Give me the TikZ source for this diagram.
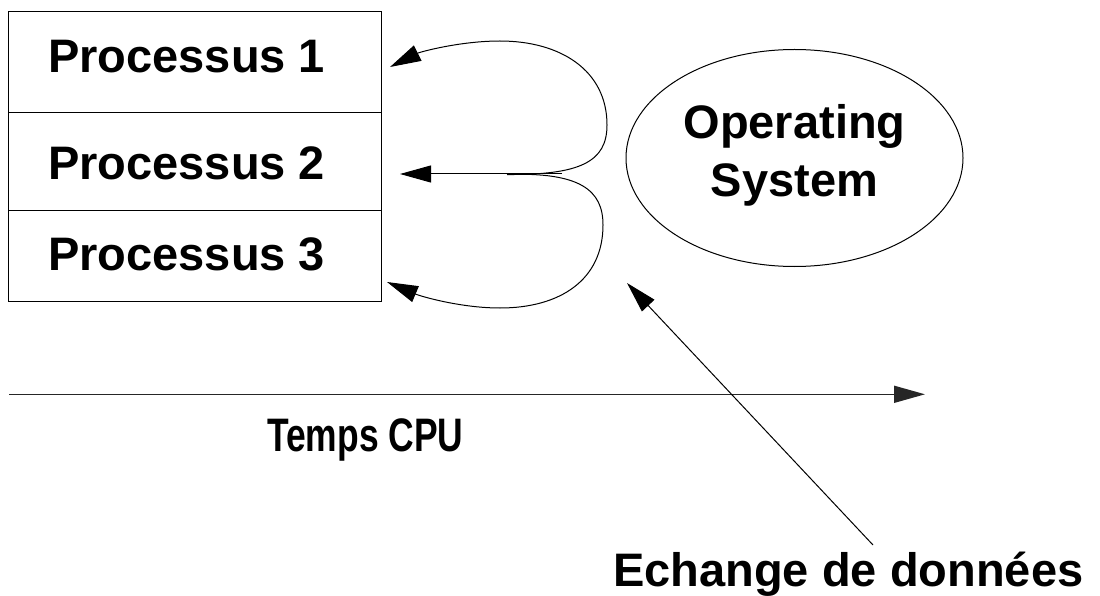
\documentclass[tikz,border=0pt]{standalone}
\usepackage{fontspec}
\setmainfont{Liberation Sans}
\usetikzlibrary{arrows.meta,shapes.geometric}
\begin{document}
\begin{tikzpicture}[x=1pt,y=-1pt,
  lbl/.style={font=\fontsize{47}{57}\selectfont\bfseries, inner sep=0pt, anchor=base west},
  boxline/.style={draw=black, line width=1pt},
  conn/.style={draw=black, line width=1pt, -{Triangle[length=31pt,width=17pt]}},
  axis/.style={draw=black!85, line width=1.6pt, -{Triangle[length=31pt,width=17pt]}}]
\useasboundingbox (0,0) rectangle (1100,596);
% process stack
\node[boxline, rectangle, minimum width=373.5pt, minimum height=101pt, inner sep=0pt, anchor=north west] (b1) at (7.5,11) {};
\node[boxline, rectangle, minimum width=373.5pt, minimum height=98pt, inner sep=0pt, anchor=north west] (b2) at (7.5,112) {};
\node[boxline, rectangle, minimum width=373.5pt, minimum height=91pt, inner sep=0pt, anchor=north west] (b3) at (7.5,210) {};
\node[lbl] (p1) at (48,72.7) {Processus 1};
\node[lbl] (p2) at (48,180) {Processus 2};
\node[lbl] (p3) at (48,270) {Processus 3};
% operating system
\node[draw=black, line width=1pt, ellipse, minimum width=337pt, minimum height=217pt, inner sep=0pt] (os) at (794.5,158) {};
\node[lbl, anchor=base] (os1) at (794.5,139) {Operating};
\node[lbl, anchor=base] (os2) at (794.5,196.7) {System};
% arrow tips and junctions
\coordinate (a1) at (390,67);
\coordinate (a2) at (400,174);
\coordinate (a3) at (387,282);
\coordinate (j1) at (507,174.5);
\coordinate (j2) at (562,174);
\draw[conn] (j1) .. controls (580,175) and (607,162) .. (607,125)
  .. controls (607,70) and (560,41) .. (500,41)
  .. controls (460,41) and (420,52) .. (a1);
\draw[conn] (j1) .. controls (580,172) and (603,190) .. (603,225)
  .. controls (603,280) and (560,308) .. (500,308)
  .. controls (460,308) and (420,296) .. (a3);
\draw[conn] (j2) -- (a2);
% time axis
\coordinate (t0) at (9,394.3);
\coordinate (t1) at (925,394.3);
\draw[axis] (t0) -- (t1);
\node[lbl, anchor=base west] (cpu) at (267,451) {\scalebox{0.754}[1]{Temps CPU}};
% data exchange
\node[lbl] (ech) at (613,586) {Echange de données};
\coordinate (e1) at (873,545);
\coordinate (e2) at (627,283);
\draw[conn] (e1) -- (e2);
\end{tikzpicture}
\end{document}
